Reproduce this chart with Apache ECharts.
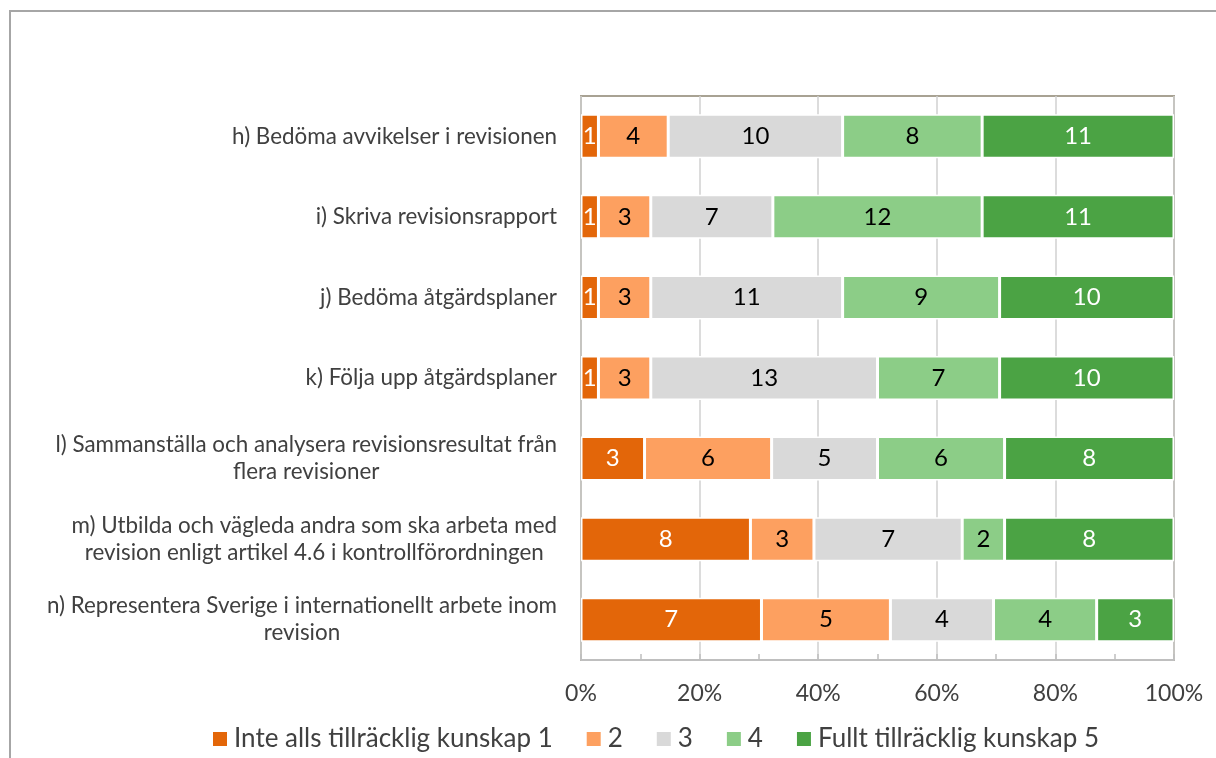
<!DOCTYPE html>
<html>
<head>
<meta charset="utf-8">
<script src="https://cdn.jsdelivr.net/npm/echarts@6/dist/echarts.min.js"></script>
<style>
  html, body { margin: 0; padding: 0; background: #fff; }
  #chart { width: 1216px; height: 758px; }
</style>
</head>
<body>
<div id="chart"></div>
<script>
// frågor (kategorier), uppifrån och ned
const categories = [
  'h) Bedöma avvikelser i revisionen',
  'i) Skriva revisionsrapport',
  'j) Bedöma åtgärdsplaner',
  'k) Följa upp åtgärdsplaner',
  'l) Sammanställa och analysera revisionsresultat från\nflera revisioner',
  'm) Utbilda och vägleda andra som ska arbeta med\nrevision enligt artikel 4.6 i kontrollförordningen',
  'n) Representera Sverige i internationellt arbete inom\nrevision'
]
const seriesNames = ['Inte alls tillräcklig kunskap 1', '2', '3', '4', 'Fullt tillräcklig kunskap 5']
// antal svar per nivå
const level1 = [1, 1, 1, 1, 3, 8, 7]
const level2 = [4, 3, 3, 3, 6, 3, 5]
const level3 = [10, 7, 11, 13, 5, 7, 4]
const level4 = [8, 12, 9, 7, 6, 2, 4]
const level5 = [11, 11, 10, 10, 8, 8, 3]
const tickLabels = ['0%', '20%', '40%', '60%', '80%', '100%']

const colors = ['#e36609', '#fda060', '#d9d9d9', '#8ccd87', '#4ba344']
const labelColors = ['#fff', '#000', '#000', '#000', '#fff']
const FONT = 'Lato'

const levels = [level1, level2, level3, level4, level5]
const totals = categories.map((c, i) => levels.reduce((s, l) => s + l[i], 0))

const chart = echarts.init(document.getElementById('chart'))

const series = levels.map((vals, k) => ({
  name: seriesNames[k],
  type: 'bar',
  stack: 'total',
  barWidth: 44,
  data: vals.map((v, i) => ({ value: v / totals[i], count: v })),
  itemStyle: { color: colors[k], borderColor: '#fff', borderWidth: 1.5 },
  label: {
    show: true,
    position: 'inside',
    color: labelColors[k],
    fontFamily: FONT,
    fontSize: 24,
    formatter: p => p.data.count
  },
  emphasis: { disabled: true }
}))

const option = {
  animation: false,
  graphic: [{
    type: 'rect',
    shape: { x: 10, y: 11, width: 1300, height: 900 },
    style: { fill: 'none', stroke: '#a6a6a6', lineWidth: 2 },
    silent: true
  }],
  grid: {
    left: 581,
    top: 96,
    right: 42,
    bottom: 98,
    containLabel: false,
    outerBoundsMode: 'none',
    show: true,
    borderColor: '#a8a293',
    borderWidth: 2
  },
  legend: {
    bottom: 1,
    left: 208,
    itemWidth: 14,
    itemHeight: 14,
    itemGap: 34,
    icon: 'rect',
    itemStyle: { borderWidth: 0 },
    textStyle: { fontFamily: FONT, fontSize: 26, color: '#404040', padding: [0, 0, 0, 2] },
    data: seriesNames
  },
  xAxis: {
    type: 'value',
    min: 0,
    max: 1,
    interval: 0.2,
    axisLine: { show: true, lineStyle: { color: '#bfbfbf', width: 2 } },
    axisTick: { show: true, inside: true, length: 6, lineStyle: { color: '#bfbfbf', width: 1.5 } },
    minorTick: { show: true, splitNumber: 2, length: 6, lineStyle: { color: '#bfbfbf', width: 1.5 } },
    splitLine: { show: true, lineStyle: { color: '#d0d0d0', width: 1.5 } },
    axisLabel: {
      margin: 22,
      fontFamily: FONT,
      fontSize: 23,
      color: '#404040',
      formatter: v => tickLabels[Math.round(v * 5)]
    }
  },
  yAxis: {
    type: 'category',
    inverse: true,
    data: categories,
    axisLine: { show: false },
    axisTick: { show: false },
    axisLabel: {
      margin: 24,
      formatter: v => v.split('\n').map(s => '{c|' + s + '}').join('\n'),
      rich: {
        c: { align: 'center', fontFamily: FONT, fontSize: 22.4, color: '#404040', lineHeight: 27 }
      }
    }
  },
  series: series
}

chart.setOption(option)
</script>
</body>
</html>
